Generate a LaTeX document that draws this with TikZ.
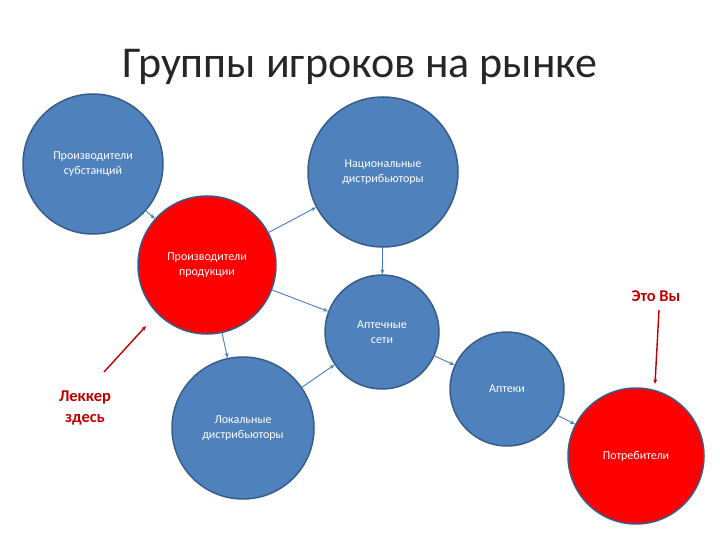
\documentclass[tikz,border=0pt]{standalone}
\usepackage{fontspec}
\setmainfont{Carlito}
\usepackage{xcolor}
\usetikzlibrary{arrows.meta}

\definecolor{ppblue}{HTML}{4F81BD}
\definecolor{ppedge}{HTML}{385D8A}
\definecolor{pplink}{HTML}{4A7EBB}
\definecolor{ppdark}{HTML}{C00000}

\tikzset{
    player/.style={circle, draw=ppedge, line width=1.5pt, fill=ppblue, text=white, inner sep=0pt, align=center, font=\fontsize{12}{14.5}\selectfont},
    redplayer/.style={player, fill=red},
    link/.style={draw=pplink, line width=0.9pt, -{Stealth[length=5pt,width=4pt]}},
    pointer/.style={draw=ppdark, line width=1.4pt, -{Stealth[length=5pt,width=4pt]}},
    remark/.style={text=ppdark, align=center, font=\fontsize{16.5}{21}\selectfont\bfseries}
}

\begin{document}
\begin{tikzpicture}[x=1pt,y=-1pt]
    \useasboundingbox (0,0) rectangle (720,540);

    \node(title) at (360,67) [font=\fontsize{44}{48}\selectfont, text=black!85]{Группы игроков на рынке};

    % participants
    \node(subst) at (93,164) [player, minimum size=140pt]{Производители\\субстанций};
    \node(natdist) at (383,172) [player, minimum size=150pt]{Национальные\\дистрибьюторы};
    \node(prod) at (207,265) [redplayer, minimum size=138pt]{Производители\\продукции};
    \node(chains) at (382,332) [player, minimum size=114pt]{Аптечные\\сети};
    \node(pharm) at (507,389) [player, minimum size=114pt]{Аптеки};
    \node(locdist) at (243,428) [player, minimum size=142pt]{Локальные\\дистрибьюторы};
    \node(consum) at (636,456) [redplayer, minimum size=136pt]{Потребители};

    % flows
    \draw[link] (subst) -- (prod);
    \draw[link] (prod) -- (natdist);
    \draw[link] (natdist) -- (chains);
    \draw[link] (prod) -- (chains);
    \draw[link] (prod) -- (locdist);
    \draw[link] (locdist) -- (chains);
    \draw[link] (chains) -- (pharm);
    \draw[link] (pharm) -- (consum);

    % remarks
    \node(lekker) at (85,408) [remark]{Леккер\\здесь};
    \node(you) at (656,296) [remark]{Это Вы};
    \coordinate(lekkerfrom) at (104,372);
    \coordinate(lekkerto) at (146,326);
    \coordinate(youfrom) at (659,310);
    \coordinate(youto) at (655,384);
    \draw[pointer] (lekkerfrom) -- (lekkerto);
    \draw[pointer] (youfrom) -- (youto);
\end{tikzpicture}
\end{document}
